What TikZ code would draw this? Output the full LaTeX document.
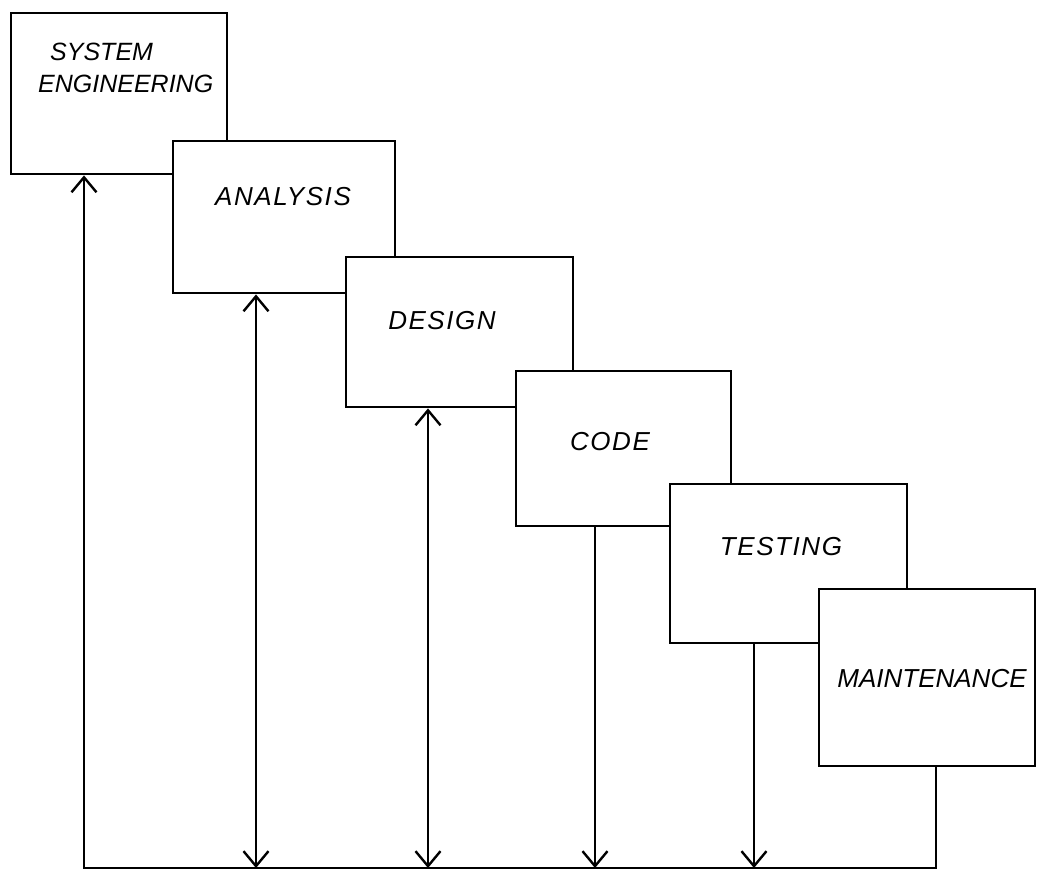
\documentclass[tikz,border=0pt]{standalone}
\usepackage{fontspec}
\usetikzlibrary{arrows.meta}
\newfontfamily\hand{Liberation Sans}[LetterSpace=6]
\begin{document}
\begin{tikzpicture}[x=1pt,y=-1pt,
  box/.style={draw, line width=2.4pt, fill=white, rectangle, inner sep=0pt, anchor=north west},
  lbl/.style={font=\hand\itshape\fontsize{26}{32}\selectfont, inner sep=0pt},
  conn/.style={line width=2.2pt},
  barb/.tip={Straight Barb[length=15pt,width=25pt,line width=2.4pt]},
  tipend/.style={-barb},
  tipboth/.style={barb-barb}
]
\useasboundingbox (0,0) rectangle (1038,873);

\node[box, minimum width=216pt, minimum height=161pt] (se) at (10,12) {};
\node[lbl, anchor=north west, align=left, font=\hand\itshape\fontsize{25}{32}\selectfont\addfontfeature{LetterSpace=0}] (t1) at (38,43) {\hspace*{12pt}SYSTEM\\ENGINEERING};

\node[box, minimum width=222pt, minimum height=152pt] (an) at (172,140) {};
\node[lbl] (t2) at (283,197) {ANALYSIS};

\node[box, minimum width=227pt, minimum height=150pt] (de) at (345,256) {};
\node[lbl] (t3) at (442,321) {DESIGN};

\node[box, minimum width=215pt, minimum height=155pt] (co) at (515,370) {};
\node[lbl] (t4) at (610,442) {CODE};

\node[box, minimum width=237pt, minimum height=159pt] (te) at (669,483) {};
\node[lbl] (t5) at (781,547) {TESTING};

\node[box, minimum width=216pt, minimum height=177pt] (ma) at (818,588) {};
\node[lbl, font=\hand\itshape\fontsize{26}{32}\selectfont\addfontfeature{LetterSpace=0}] (t6) at (932,679) {MAINTENANCE};

\coordinate (bl) at (84,868);
\coordinate (br) at (936,868);
\coordinate (a2) at (256,868);
\coordinate (a3) at (428,868);
\coordinate (a4) at (595,868);
\coordinate (a5) at (754,868);

\draw[conn, tipend] (ma.south -| br) -- (br) -- (bl) -- (bl |- se.south);
\draw[conn, tipboth] (an.south -| a2) -- (a2);
\draw[conn, tipboth] (de.south -| a3) -- (a3);
\draw[conn, tipend] (co.south -| a4) -- (a4);
\draw[conn, tipend] (te.south -| a5) -- (a5);
\end{tikzpicture}
\end{document}
